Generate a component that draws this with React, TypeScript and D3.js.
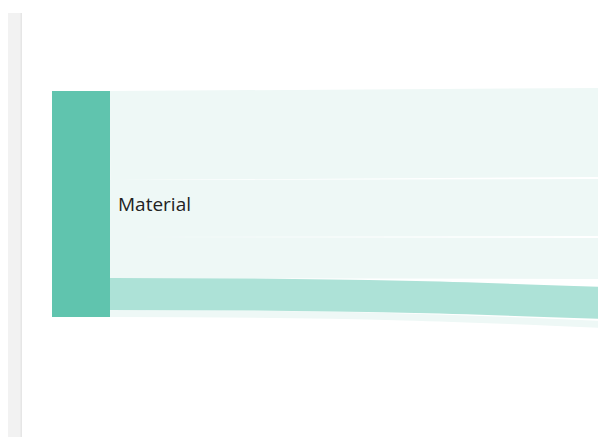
import React from "react";
import * as d3 from "d3";

// ---- data ----
const sourceNames = ["Material"];
const targetNames = ["Target A", "Target B", "Target C", "Target D", "Target E"];
// flow from Material to each target (value units)
const linkValues = [89, 57, 41, 32, 7];
// inflow into each target coming from other (off-screen) sources, before / after this flow
const inflowBefore = [5, 0, 0, 12, 0];
const inflowAfter = [0, 0, 0, 0, 0];
// which links are highlighted
const highlighted = [false, false, false, true, false];

const W = 598;
const H = 437;

export default function App() {
  const total = d3.sum(linkValues);
  // value -> pixel scale
  const k = d3.scaleLinear().domain([0, total]).range([0, 226]);
  const srcX0 = 52, srcX1 = 110, srcTop = 91;
  const tgtX = 1100, tgtTop = 80, pad = 4;

  // source stacking
  const srcOffsets = d3.cumsum([0, ...linkValues]);
  // target stacking
  const tgtTotals = linkValues.map((v, i) => inflowBefore[i] + v + inflowAfter[i]);
  let y = tgtTop;
  const tgtY0 = tgtTotals.map((t) => {
    const y0 = y;
    y += k(t) + pad;
    return y0;
  });

  const linkGen = d3
    .linkHorizontal<any, [number, number]>()
    .source((d: any) => d.s)
    .target((d: any) => d.t);

  const links = linkValues.map((v, i) => {
    const w = k(v);
    const sy = srcTop + k(srcOffsets[i]) + w / 2;
    const ty = tgtY0[i] + k(inflowBefore[i]) + w / 2;
    return { w, d: linkGen({ s: [srcX1, sy], t: [tgtX, ty] } as any), hi: highlighted[i], name: targetNames[i] };
  });

  // draw light links first, highlighted on top
  const ordered = [...links].sort((a, b) => Number(a.hi) - Number(b.hi));

  return (
    <svg
      width={W}
      height={H}
      style={{ position: "fixed", left: 0, top: 0, background: "#fff" }}
    >
      <rect x={8} y={13} width={14} height={H - 13} fill="#f2f2f2" />
      <rect x={20.5} y={13} width={1.5} height={H - 13} fill="#e6e6e6" />
      <g>
        {ordered.map((l, i) => (
          <path
            key={i}
            d={l.d as string}
            fill="none"
            stroke={l.hi ? "#ade2d7" : "#eef8f6"}
            strokeWidth={l.w}
          >
            <title>{`${sourceNames[0]} → ${l.name}`}</title>
          </path>
        ))}
      </g>
      <rect x={srcX0} y={srcTop} width={srcX1 - srcX0} height={k(total)} fill="#60c4ae" />
      <text
        x={118}
        y={211}
        fontFamily="'Open Sans', sans-serif"
        fontSize={19}
        fill="#222"
      >
        {sourceNames[0]}
      </text>
    </svg>
  );
}
